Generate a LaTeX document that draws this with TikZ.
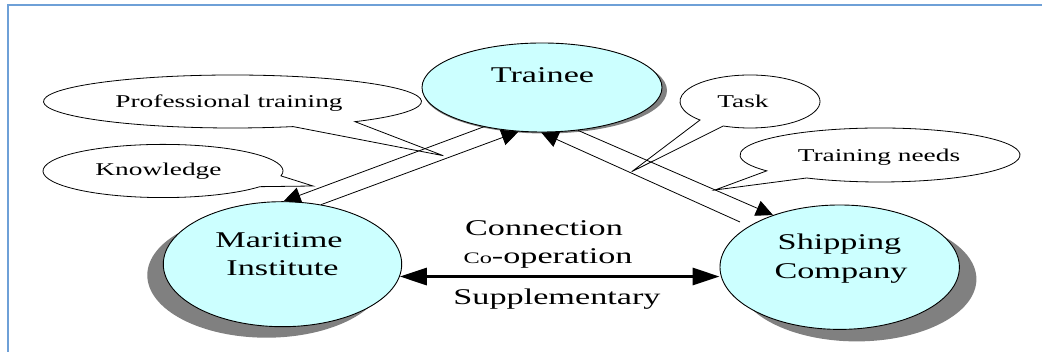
\documentclass[tikz,border=0pt]{standalone}
\usepackage{fontspec}
\setmainfont{Liberation Serif}
\usetikzlibrary{arrows.meta,calc,shapes.geometric}
\definecolor{framecol}{RGB}{110,160,215}
\definecolor{bubble}{RGB}{204,255,255}
\definecolor{shade}{RGB}{128,128,128}
% all lettering is set wide
\newcommand\wide[1]{\scalebox{1.52}[1]{#1}}
\begin{document}
\begin{tikzpicture}[x=1pt,y=1pt,
  actor/.style={ellipse, draw=black, line width=0.9pt, fill=bubble, inner sep=0pt},
  shadowell/.style={ellipse, fill=shade, inner sep=0pt},
  callout/.style={draw=black, line width=0.8pt, fill=white, line join=miter},
  bigtext/.style={inner sep=0pt, anchor=base, font=\fontsize{22.5}{27}\selectfont},
  smalltext/.style={inner sep=0pt, anchor=base, font=\fontsize{18}{22}\selectfont},
  flow/.style={line width=0.8pt, -{Triangle[length=17pt,width=16pt]}},
  link/.style={line width=3pt, {Triangle[length=27pt,width=17pt]}-{Triangle[length=27pt,width=17pt]}},
]
\useasboundingbox (0,0) rectangle (1042,352);

% frame
\draw[framecol, line width=1.8pt] (8,0) -- (8,347) -- (1042,347);

% speech bubbles
\coordinate (pt-c) at (232.5,250.5);
\coordinate (pt-tip) at (443.3,196.3);
\draw[callout] ($(pt-c)+(-49.6:189 and 26.5)$) arc[start angle=-49.6, end angle=288.7, x radius=189, y radius=26.5] -- (pt-tip) -- cycle;

\coordinate (kn-c) at (163,181);
\coordinate (kn-tip) at (313,166);
\draw[callout] ($(kn-c)+(-10.6:120 and 26.6)$) arc[start angle=-10.6, end angle=323.9, x radius=120, y radius=26.6] -- (kn-tip) -- cycle;

\coordinate (task-c) at (750,250.5);
\coordinate (task-tip) at (631.7,180.3);
\draw[callout] ($(task-c)+(247.6:70 and 26.5)$) arc[start angle=247.6, end angle=584.4, x radius=70, y radius=26.5] -- (task-tip) -- cycle;

\coordinate (tn-c) at (880,197);
\coordinate (tn-tip) at (715,162);
\draw[callout] ($(tn-c)+(238.4:140 and 27)$) arc[start angle=238.4, end angle=576, x radius=140, y radius=27] -- (tn-tip) -- cycle;

% shadows
\node[shadowell, minimum width=244, minimum height=86] (trainee-sh) at (545,261.5) {};
\node[shadowell, minimum width=238.4, minimum height=125] (maritime-sh) at (266.5,76.8) {};
\node[shadowell, minimum width=239.4, minimum height=124.4] (shipping-sh) at (856.7,72.8) {};

% parties
\node[actor, minimum width=240, minimum height=89] (trainee) at (542,264.5) {};
\node[actor, minimum width=238.4, minimum height=125] (maritime) at (282.5,87.8) {};
\node[actor, minimum width=239.4, minimum height=124.4] (shipping) at (839.7,84.8) {};

% flows
\coordinate (ship-free) at (740,130);
\draw[flow] (trainee.214.5) -- (maritime.89.3);
\draw[flow] (maritime.57.8) -- (trainee.242.6);
\draw[flow] (ship-free) -- (trainee.269.6);
\draw[flow] (trainee.310.5) -- (shipping.142.4);
\draw[link] (maritime.-6) -- (maritime.-6 -| shipping.west);

% lettering
\node[bigtext] (trainee-t) at (542.5,269) {\wide{Trainee}};
\node[bigtext] (mar-1) at (279,104) {\wide{Maritime}};
\node[bigtext] (mar-2) at (282.5,76) {\wide{Institute}};
\node[bigtext] (ship-1) at (839.5,102) {\wide{Shipping}};
\node[bigtext] (ship-2) at (841,73.7) {\wide{Company}};
\node[bigtext] (conn) at (544,116.3) {\wide{Connection}};
\node[bigtext] (coop) at (548,88) {\wide{{\fontsize{16}{18}\selectfont Co}-operation}};
\node[bigtext] (supp) at (557,47.7) {\wide{Supplementary}};
\node[smalltext] (pt-t) at (229,244) {\wide{Professional training}};
\node[smalltext] (kn-t) at (158.5,176.5) {\wide{Knowledge}};
\node[smalltext] (task-t) at (743,244) {\wide{Task}};
\node[smalltext] (tn-t) at (879,190.3) {\wide{Training needs}};
\end{tikzpicture}
\end{document}
